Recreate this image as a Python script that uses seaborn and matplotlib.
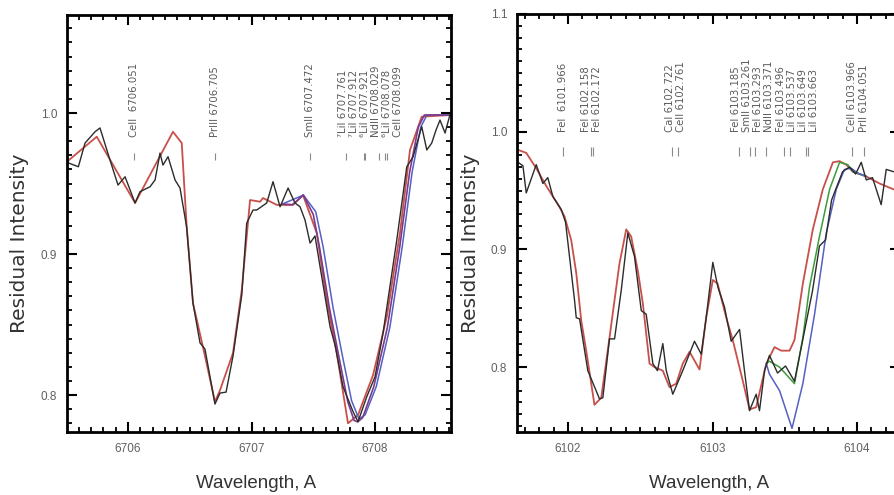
import numpy as np
import pandas as pd
import matplotlib
matplotlib.use("Agg")
import matplotlib.pyplot as plt
from matplotlib.ticker import MultipleLocator, FormatStrFormatter
from matplotlib import font_manager
import seaborn as sns

# ---------------- data: Li 6708 region (left panel) ----------------
left_obs_x = [6705.490, 6705.598, 6705.652, 6705.733, 6705.773, 6705.854, 6705.919, 6705.976,
              6706.057, 6706.097, 6706.178, 6706.219, 6706.259, 6706.283, 6706.324, 6706.381,
              6706.421, 6706.475, 6706.526, 6706.583, 6706.623, 6706.704, 6706.745, 6706.794,
              6706.850, 6706.921, 6706.961, 6707.012, 6707.042, 6707.123, 6707.174, 6707.231,
              6707.296, 6707.352, 6707.393, 6707.433, 6707.474, 6707.514, 6707.555, 6707.636,
              6707.676, 6707.741, 6707.822, 6707.862, 6707.933, 6708.000, 6708.065, 6708.176,
              6708.257, 6708.308, 6708.378, 6708.419, 6708.459, 6708.494, 6708.526, 6708.567,
              6708.607]
left_obs_y = [0.9655, 0.9619, 0.9787, 0.9867, 0.9894, 0.9667, 0.9489, 0.9548,
              0.9362, 0.9442, 0.9477, 0.9525, 0.9716, 0.9631, 0.9690, 0.9525,
              0.9468, 0.9190, 0.8652, 0.8370, 0.8326, 0.7936, 0.8014, 0.8021,
              0.8277, 0.8710, 0.9220, 0.9312, 0.9312, 0.9362, 0.9513, 0.9335,
              0.9468, 0.9362, 0.9335, 0.9241, 0.9078, 0.9128, 0.8910, 0.8484,
              0.8355, 0.8059, 0.7882, 0.7811, 0.7988, 0.8130, 0.8440, 0.9099,
              0.9619, 0.9690, 0.9903, 0.9738, 0.9787, 0.9880, 0.9950, 0.9858,
              0.9990]

left_red_x = [6705.506, 6705.747, 6706.057, 6706.364, 6706.435, 6706.475, 6706.526, 6706.607,
              6706.704, 6706.745, 6706.850, 6706.921, 6706.988, 6707.069, 6707.093, 6707.206,
              6707.336, 6707.417, 6707.528, 6707.609, 6707.690, 6707.781, 6707.862, 6707.984,
              6708.095, 6708.202, 6708.283, 6708.378, 6708.615]
left_red_y = [0.9655, 0.9832, 0.9362, 0.9867, 0.9787, 0.9194, 0.8652, 0.8340,
              0.7953, 0.8035, 0.8298, 0.8745, 0.9383, 0.9371, 0.9397, 0.9348,
              0.9348, 0.9418, 0.9149, 0.8674, 0.8298, 0.7800, 0.7858, 0.8142,
              0.8555, 0.9149, 0.9738, 0.9974, 0.9986]

left_purple_x = [6707.250, 6707.330, 6707.420, 6707.500, 6707.550, 6707.630, 6707.710, 6707.780,
                 6707.830, 6707.860, 6707.900, 6707.990, 6708.100, 6708.200, 6708.280, 6708.350,
                 6708.400, 6708.615]
left_purple_y = [0.9355, 0.9350, 0.9418, 0.9280, 0.9050, 0.8620, 0.8260, 0.7950,
                 0.7820, 0.7810, 0.7840, 0.8060, 0.8480, 0.9050, 0.9580, 0.9900,
                 0.9986, 0.9986]

left_blue_x = [6707.250, 6707.420, 6707.520, 6707.580, 6707.660, 6707.740, 6707.810, 6707.870,
               6707.920, 6708.010, 6708.120, 6708.220, 6708.300, 6708.370, 6708.420, 6708.615]
left_blue_y = [0.9355, 0.9418, 0.9300, 0.9050, 0.8620, 0.8260, 0.7960, 0.7830,
               0.7860, 0.8060, 0.8480, 0.9050, 0.9580, 0.9900, 0.9986, 0.9986]

left_line_wl = [6706.051, 6706.705, 6707.472, 6707.761, 6707.912, 6707.921, 6708.029,
                6708.078, 6708.099]
left_line_names = ["CeII  6706.051", "PrIII 6706.705", "SmII 6707.472", "\u2077LiI 6707.761",
                   "\u2077LiI 6707.912", "\u2076LiI 6707.921", "NdII 6708.029",
                   "\u2076LiI 6708.078", "CeII 6708.099"]

# ---------------- data: Li 6104 region (right panel) ----------------
right_obs_x = [6101.644, 6101.688, 6101.711, 6101.780, 6101.826, 6101.860, 6101.895, 6101.953,
               6101.983, 6102.045, 6102.057, 6102.080, 6102.137, 6102.218, 6102.241, 6102.287,
               6102.322, 6102.368, 6102.414, 6102.460, 6102.507, 6102.541, 6102.587, 6102.619,
               6102.656, 6102.680, 6102.725, 6102.794, 6102.875, 6102.922, 6102.956, 6103.002,
               6103.037, 6103.083, 6103.129, 6103.187, 6103.221, 6103.256, 6103.302, 6103.325,
               6103.360, 6103.394, 6103.450, 6103.505, 6103.567, 6103.637, 6103.692, 6103.740,
               6103.782, 6103.824, 6103.865, 6103.900, 6103.948, 6103.990, 6104.029, 6104.064,
               6104.107, 6104.167, 6104.202, 6104.253]
right_obs_y = [0.975, 0.971, 0.948, 0.972, 0.956, 0.961, 0.945, 0.934,
               0.923, 0.857, 0.842, 0.841, 0.797, 0.773, 0.774, 0.824,
               0.824, 0.865, 0.914, 0.894, 0.848, 0.845, 0.803, 0.797,
               0.820, 0.797, 0.777, 0.797, 0.822, 0.811, 0.842, 0.889,
               0.868, 0.851, 0.822, 0.832, 0.797, 0.763, 0.777, 0.763,
               0.797, 0.810, 0.795, 0.801, 0.788, 0.831, 0.865, 0.903,
               0.908, 0.942, 0.955, 0.966, 0.970, 0.964, 0.974, 0.959,
               0.961, 0.938, 0.968, 0.966]

right_red_x = [6101.644, 6101.711, 6101.780, 6101.849, 6101.941, 6101.976, 6102.022, 6102.057,
               6102.091, 6102.126, 6102.183, 6102.230, 6102.287, 6102.356, 6102.403, 6102.437,
               6102.483, 6102.518, 6102.564, 6102.599, 6102.656, 6102.702, 6102.749, 6102.794,
               6102.841, 6102.910, 6102.956, 6103.002, 6103.035, 6103.095, 6103.140, 6103.210,
               6103.256, 6103.302, 6103.372, 6103.429, 6103.475, 6103.533, 6103.567, 6103.625,
               6103.694, 6103.763, 6103.833, 6103.879, 6103.925, 6103.971, 6104.064, 6104.156,
               6104.253]
right_red_y = [0.985, 0.982, 0.969, 0.954, 0.936, 0.928, 0.908, 0.880,
               0.840, 0.814, 0.768, 0.774, 0.825, 0.888, 0.917, 0.911,
               0.882, 0.854, 0.803, 0.800, 0.797, 0.783, 0.786, 0.803,
               0.813, 0.798, 0.842, 0.874, 0.871, 0.842, 0.823, 0.788,
               0.764, 0.766, 0.803, 0.817, 0.814, 0.814, 0.823, 0.871,
               0.917, 0.951, 0.974, 0.975, 0.972, 0.966, 0.962, 0.956,
               0.951]

right_green_x = [6103.372, 6103.394, 6103.464, 6103.567, 6103.625, 6103.671, 6103.740, 6103.810,
                 6103.879, 6103.936, 6103.971, 6104.064]
right_green_y = [0.803, 0.805, 0.800, 0.786, 0.825, 0.868, 0.911, 0.951,
                 0.974, 0.972, 0.966, 0.962]

right_blue_x = [6103.372, 6103.394, 6103.464, 6103.550, 6103.625, 6103.706, 6103.787, 6103.856,
                6103.913, 6103.960, 6104.003, 6104.064]
right_blue_y = [0.803, 0.794, 0.780, 0.748, 0.786, 0.845, 0.914, 0.951,
                0.968, 0.969, 0.965, 0.962]

right_line_wl = [6101.966, 6102.158, 6102.172, 6102.722, 6102.761, 6103.185, 6103.261,
                 6103.293, 6103.371, 6103.496, 6103.537, 6103.649, 6103.663, 6103.966,
                 6104.051]
right_line_names = ["FeI  6101.966", "FeI 6102.158", "FeI 6102.172", "CaI 6102.722",
                    "CeII 6102.761", "FeI 6103.185", "SmII 6103.261", "FeI 6103.293",
                    "NdII 6103.371", "FeI 6103.496", "LiI 6103.537", "LiI 6103.649",
                    "LiI 6103.663", "CeII 6103.966", "PrII 6104.051"]

x_label = "Wavelength, A"
y_label = "Residual Intensity"

# ---------------- styling ----------------
sns.set_theme(style="ticks")
available = {f.name for f in font_manager.fontManager.ttflist}
narrow = "Liberation Sans Narrow" in available
base_font = "Liberation Sans Narrow" if narrow else "Liberation Sans"
plt.rcParams['font.family'] = [base_font, 'DejaVu Sans']
tick_fs = 10 if narrow else 8.5
xlab_fs = 15.5 if narrow else 13.5
plt.rcParams.update({
    "xtick.direction": "in", "ytick.direction": "in",
    "xtick.top": True, "ytick.right": True,
    "xtick.bottom": True, "ytick.left": True,
    "xtick.minor.visible": True, "ytick.minor.visible": True,
    "xtick.major.size": 7, "ytick.major.size": 7,
    "xtick.minor.size": 3.6, "ytick.minor.size": 3.6,
    "xtick.major.width": 1.5, "ytick.major.width": 1.5,
    "xtick.minor.width": 1.3, "ytick.minor.width": 1.3,
    "xtick.color": "black", "ytick.color": "black",
})

C_OBS = "#2b2b2b"
C_RED = "#c8504a"
C_PURPLE = "#7a3b8c"
C_BLUE = "#5560c4"
C_GREEN = "#3c9c3c"
C_LAB = "#5a5a5a"

W, H = 894, 495
fig = plt.figure(figsize=(W / 100, H / 100), dpi=100)
fig.patch.set_facecolor("white")


def px_rect(x0, y0, x1, y1):
    return [x0 / W, 1 - y1 / H, (x1 - x0) / W, (y1 - y0) / H]


ax1 = fig.add_axes(px_rect(67, 15, 451, 432))
ax2 = fig.add_axes(px_rect(517, 14, 900.4, 432))


def spread(wl, gap):
    clusters = [[i] for i in range(len(wl))]
    while True:
        pos = []
        for c in clusters:
            center = float(np.mean([wl[i] for i in c]))
            n = len(c)
            pos.append([center + (k - (n - 1) / 2) * gap for k in range(n)])
        merged = False
        for j in range(len(clusters) - 1):
            if pos[j + 1][0] - pos[j][-1] < gap - 1e-9:
                clusters[j] = clusters[j] + clusters[j + 1]
                del clusters[j + 1]
                merged = True
                break
        if not merged:
            return [p for grp in pos for p in grp]


def draw_series(ax, xs, ys, color, lw):
    df = pd.DataFrame({"x": xs, "y": ys})
    sns.lineplot(data=df, x="x", y="y", ax=ax, color=color, lw=lw,
                 sort=False, estimator=None, zorder=2)


def style_axes(ax, xlim, ylim):
    ax.set_xlim(*xlim)
    ax.set_ylim(*ylim)
    ax.xaxis.set_major_locator(MultipleLocator(1))
    ax.xaxis.set_minor_locator(MultipleLocator(0.1))
    ax.yaxis.set_major_locator(MultipleLocator(0.1))
    ax.yaxis.set_minor_locator(MultipleLocator(0.01))
    ax.xaxis.set_major_formatter(FormatStrFormatter("%.0f"))
    ax.yaxis.set_major_formatter(FormatStrFormatter("%.1f"))
    ax.tick_params(which="both", direction="in", top=True, right=True,
                   bottom=True, left=True, color="black")
    ax.tick_params(which="major", length=7, width=1.5,
                   labelcolor="#606060", labelsize=tick_fs)
    ax.tick_params(which="minor", length=3.6, width=1.3)
    ax.tick_params(axis="x", which="major", pad=8)
    ax.tick_params(axis="y", which="major", pad=7)
    for s in ax.spines.values():
        s.set_visible(True)
        s.set_linewidth(2.0)
        s.set_color("black")
        s.set_zorder(5)
    ax.set_xlabel("")
    ax.set_ylabel("")
    ax.set_facecolor("white")


def draw_line_ids(ax, wl, names, gap, y_text, y_tick0, y_tick1):
    ax.vlines(wl, y_tick0, y_tick1, color="#8a8a8a", lw=0.8)
    for xpos, name in zip(spread(wl, gap), names):
        ax.text(xpos, y_text, name, rotation=90, ha="center", va="bottom",
                fontsize=7.3, color=C_LAB, family=["DejaVu Sans"])


# left panel
draw_series(ax1, left_red_x, left_red_y, C_RED, 1.3)
draw_series(ax1, left_blue_x, left_blue_y, C_BLUE, 1.1)
draw_series(ax1, left_purple_x, left_purple_y, C_PURPLE, 1.2)
draw_series(ax1, left_obs_x, left_obs_y, C_OBS, 1.0)
style_axes(ax1, (6705.506, 6708.615), (0.7738, 1.0695))
draw_line_ids(ax1, left_line_wl, left_line_names, 0.089, 0.983, 0.9668, 0.9716)

# right panel
draw_series(ax2, right_red_x, right_red_y, C_RED, 1.3)
draw_series(ax2, right_green_x, right_green_y, C_GREEN, 1.1)
draw_series(ax2, right_blue_x, right_blue_y, C_BLUE, 1.1)
draw_series(ax2, right_obs_x, right_obs_y, C_OBS, 1.0)
style_axes(ax2, (6101.647, 6104.300), (0.7449, 1.100))
draw_line_ids(ax2, right_line_wl, right_line_names, 0.076, 1.000, 0.979, 0.987)

# axis titles
for xc in (20, 471):
    fig.text(xc / W, 1 - 243 / H, y_label, rotation=90, ha="center", va="center",
             fontsize=14.5, color="#333333", family=["DejaVu Sans"])
for xc in (256, 709):
    fig.text(xc / W, 1 - 484 / H, x_label, ha="center", va="center",
             fontsize=xlab_fs, color="#333333")

fig.savefig("out.png", dpi=100, facecolor="white")
